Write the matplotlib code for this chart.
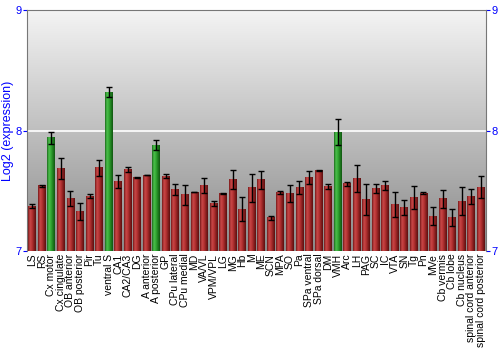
import matplotlib
matplotlib.use('Agg')
import matplotlib.pyplot as plt
from matplotlib.colors import LinearSegmentedColormap
import numpy as np

plt.rcParams['font.family'] = ['Liberation Sans', 'DejaVu Sans']

# Regions, mean log2 expression and error
regions = ['LS', 'RS', 'Cx motor', 'Cx cingulate', 'OB anterior', 'OB posterior', 'Pir', 'Tu',
           'ventral S', 'CA1', 'CA2/CA3', 'DG', 'A anterior', 'A posterior', 'GP', 'CPu lateral',
           'CPu medial', 'MD', 'VA/VL', 'VPM/VPL', 'LG', 'MG', 'Hb', 'M', 'ME', 'SCN', 'MPA', 'SO',
           'Pa', 'SPa ventral', 'SPa dorsal', 'DM', 'VMH', 'Arc', 'LH', 'PAG', 'SC', 'IC', 'VTA',
           'SN', 'Tg', 'Pn', 'MVe', 'Cb vermis', 'Cb lobe', 'Cb nucleus', 'spinal cord anterior',
           'spinal cord posterior']
values = [7.37, 7.54, 7.94, 7.685, 7.436, 7.33, 7.456, 7.69,
          8.32, 7.577, 7.677, 7.61, 7.63, 7.88, 7.62, 7.51,
          7.467, 7.49, 7.544, 7.395, 7.478, 7.594, 7.348, 7.525, 7.59, 7.276, 7.486, 7.475,
          7.528, 7.608, 7.666, 7.536, 7.986, 7.558, 7.6, 7.425, 7.52, 7.544, 7.387,
          7.362, 7.445, 7.48, 7.29, 7.434, 7.28, 7.414, 7.453,
          7.528]
errors = [0.017, 0.01, 0.05, 0.087, 0.066, 0.07, 0.015, 0.066,
          0.04, 0.055, 0.02, 0.005, 0.003, 0.04, 0.015, 0.048,
          0.084, 0.003, 0.064, 0.023, 0.003, 0.08, 0.1, 0.115, 0.072, 0.017, 0.014, 0.072,
          0.051, 0.052, 0.003, 0.019, 0.11, 0.017, 0.11, 0.13, 0.037, 0.036, 0.105,
          0.062, 0.097, 0.008, 0.073, 0.075, 0.07, 0.116, 0.061,
          0.091]
highlight = ['Cx motor', 'ventral S', 'A posterior', 'VMH']

ymin, ymax = 7, 9
blue = '#0000ff'

fig = plt.figure(figsize=(5, 3.5), dpi=100)
ax = fig.add_axes([0.054, 0.283, 0.918, 0.688])

# gray gradient background
bg = LinearSegmentedColormap.from_list('bg', ['#8a8a8a', '#f4f4f4'])
ax.imshow(np.linspace(0, 1, 256).reshape(-1, 1), cmap=bg, origin='lower', aspect='auto',
          extent=[0, 1, 0, 1], transform=ax.transAxes, zorder=0)

red_cm = LinearSegmentedColormap.from_list('r', ['#7a1a1a', '#c84848', '#b83434', '#8a2020', '#5e1010'])
green_cm = LinearSegmentedColormap.from_list('g', ['#1e6e1e', '#4cc04c', '#34a834', '#1f7f1f', '#125812'])
shade = np.linspace(0, 1, 32).reshape(1, -1)

x = np.arange(len(regions))
w = 0.82
for xi, name, v in zip(x, regions, values):
    cm = green_cm if name in highlight else red_cm
    ax.imshow(shade, cmap=cm, aspect='auto', extent=[xi - w / 2, xi + w / 2, ymin, v], zorder=2)

ax.errorbar(x, values, yerr=errors, fmt='none', ecolor='black', elinewidth=1,
            capsize=2, capthick=1, zorder=3)

ax.axhline(8, color='white', lw=1.2, zorder=1)

ax.set_xlim(-0.55, len(regions) - 0.45)
ax.set_ylim(ymin, ymax)
ax.set_xticks(x)
ax.set_xticklabels(regions, rotation=90, fontsize=7.5)
ax.tick_params(axis='x', length=0, pad=2)
ax.set_yticks([7, 8, 9])
ax.tick_params(axis='y', colors=blue, labelsize=8, length=3, pad=1, right=True, labelright=True,
               left=True, labelleft=True)
for lab in ax.get_yticklabels():
    lab.set_color(blue)
ax.set_ylabel('Log2 (expression)', color=blue, fontsize=9, labelpad=1)
for s in ax.spines.values():
    s.set_color('#777777')
ax.spines['bottom'].set_visible(False)

fig.savefig('out.png', dpi=100)
